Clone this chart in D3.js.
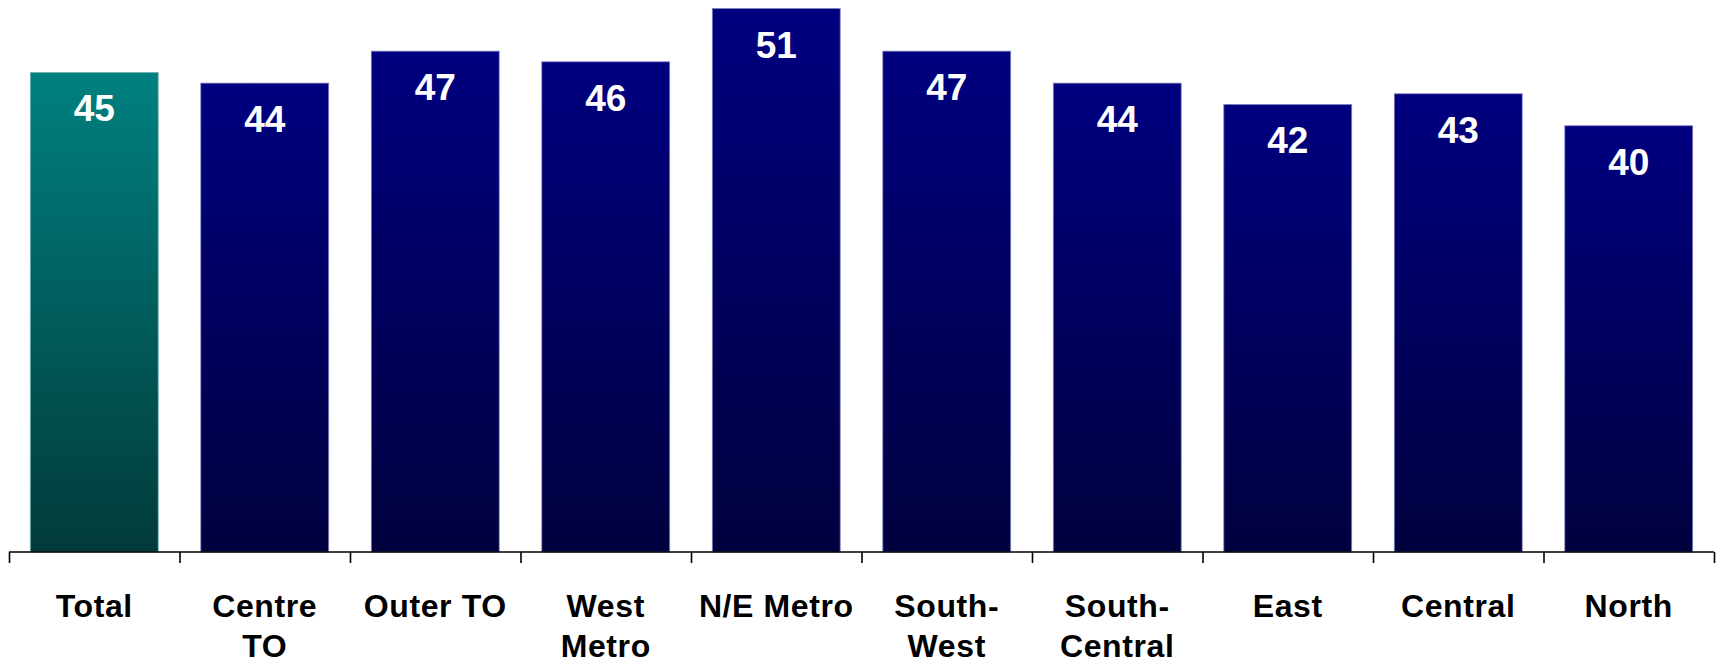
<!DOCTYPE html>
<html>
<head>
<meta charset="utf-8">
<script src="https://cdn.jsdelivr.net/npm/d3@7/dist/d3.min.js"></script>
<style>
  html, body { margin: 0; padding: 0; background: #ffffff; }
  svg { display: block; }
</style>
</head>
<body>
<svg id="chart" width="1722" height="663"></svg>
<script>
const categories = ["Total", "Centre TO", "Outer TO", "West Metro", "N/E Metro", "South-West", "South-Central", "East", "Central", "North"];
const categoryLines = [["Total"], ["Centre", "TO"], ["Outer TO"], ["West", "Metro"], ["N/E Metro"], ["South-", "West"], ["South-", "Central"], ["East"], ["Central"], ["North"]];
const values = [45, 44, 47, 46, 51, 47, 44, 42, 43, 40];

const svg = d3.select("#chart");
const W = 1722, H = 663;
const margin = { left: 9, right: 8, top: 0, bottom: 111 };
const baseY = 552;

const x = d3.scaleBand().domain(categories).range([margin.left, W - margin.right]).paddingInner(0.25).paddingOuter(0.125);
const y = d3.scaleLinear().domain([0, 51.8]).range([baseY, 0]);

const defs = svg.append("defs");
const gNavy = defs.append("linearGradient").attr("id", "gNavy").attr("x1", 0).attr("y1", 0).attr("x2", 0).attr("y2", 1);
gNavy.append("stop").attr("offset", "0%").attr("stop-color", "#000080");
gNavy.append("stop").attr("offset", "100%").attr("stop-color", "#00003e");
const gTeal = defs.append("linearGradient").attr("id", "gTeal").attr("x1", 0).attr("y1", 0).attr("x2", 0).attr("y2", 1);
gTeal.append("stop").attr("offset", "0%").attr("stop-color", "#008080");
gTeal.append("stop").attr("offset", "100%").attr("stop-color", "#023a3a");

const bars = svg.append("g");
bars.selectAll("rect").data(values).join("rect")
  .attr("x", (d, i) => x(categories[i]))
  .attr("y", d => y(d))
  .attr("width", x.bandwidth())
  .attr("height", d => baseY - y(d))
  .attr("fill", (d, i) => i === 0 ? "url(#gTeal)" : "url(#gNavy)")
  .attr("stroke", (d, i) => i === 0 ? "#6fb0b0" : "#8080c0")
  .attr("stroke-width", 0.8);

bars.selectAll("text").data(values).join("text")
  .attr("x", (d, i) => x(categories[i]) + x.bandwidth() / 2)
  .attr("y", d => y(d) + 49)
  .attr("text-anchor", "middle")
  .attr("font-family", "Liberation Sans, Arial, sans-serif")
  .attr("font-weight", "bold")
  .attr("font-size", 37)
  .attr("fill", "#ffffff")
  .text(d => d);

// axis
const outer = d3.scalePoint().domain(d3.range(categories.length + 1)).range([margin.left, W - margin.right]);
const axis = svg.append("g").attr("transform", `translate(0,${baseY})`)
  .call(d3.axisBottom(outer).tickSize(11).tickFormat(""));
axis.select(".domain").attr("stroke", "#000").attr("stroke-width", 1.6).attr("d", `M${margin.left},0H${W - margin.right}`);
axis.selectAll(".tick line").attr("stroke", "#000").attr("stroke-width", 1.6);

const labels = svg.append("g");
categories.forEach((c, i) => {
  const t = labels.append("text")
    .attr("x", x(c) + x.bandwidth() / 2)
    .attr("y", 617)
    .attr("text-anchor", "middle")
    .attr("font-family", "Liberation Sans, Arial, sans-serif")
    .attr("font-weight", "bold")
    .attr("font-size", 32)
    .attr("letter-spacing", 0.6)
    .attr("fill", "#000");
  categoryLines[i].forEach((ln, j) => {
    t.append("tspan").attr("x", x(c) + x.bandwidth() / 2).attr("y", 617 + j * 40).text(ln);
  });
});
</script>
</body>
</html>
